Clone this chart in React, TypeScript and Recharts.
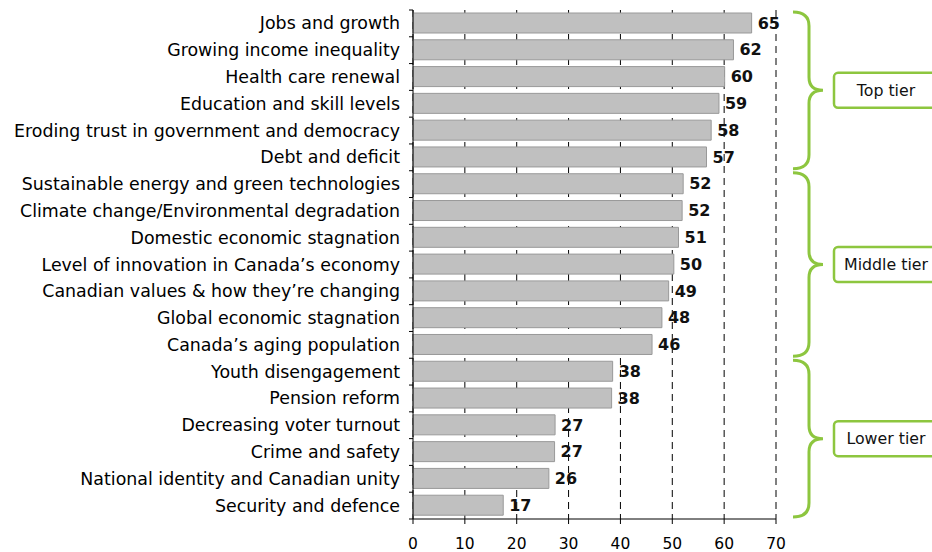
import React from "react";
import {
	Bar,
	BarChart,
	CartesianGrid,
	LabelList,
	ReferenceArea,
	XAxis,
	YAxis,
} from "recharts";

const topics = [
	"Jobs and growth",
	"Growing income inequality",
	"Health care renewal",
	"Education and skill levels",
	"Eroding trust in government and democracy",
	"Debt and deficit",
	"Sustainable energy and green technologies",
	"Climate change/Environmental degradation",
	"Domestic economic stagnation",
	"Level of innovation in Canada\u2019s economy",
	"Canadian values & how they\u2019re changing",
	"Global economic stagnation",
	"Canada\u2019s aging population",
	"Youth disengagement",
	"Pension reform",
	"Decreasing voter turnout",
	"Crime and safety",
	"National identity and Canadian unity",
	"Security and defence",
];

const scores = [
	65.3, 61.8, 60.1, 59.0, 57.5, 56.6, 52.1, 51.9, 51.2, 50.3, 49.3, 48.0, 46.1,
	38.5, 38.3, 27.4, 27.3, 26.2, 17.4,
];

const shown = [
	65, 62, 60, 59, 58, 57, 52, 52, 51, 50, 49, 48, 46, 38, 38, 27, 27, 26, 17,
];

const xTicks = [0, 10, 20, 30, 40, 50, 60, 70];

const tiers = [
	{ label: "Top tier", from: "Jobs and growth", to: "Debt and deficit" },
	{
		label: "Middle tier",
		from: "Sustainable energy and green technologies",
		to: "Canada\u2019s aging population",
	},
	{ label: "Lower tier", from: "Youth disengagement", to: "Security and defence" },
];

const data = topics.map((topic, i) => ({
	topic,
	value: scores[i],
	shown: shown[i],
}));

const WIDTH = 932;
const HEIGHT = 552;
const TOP = 10;
const X_AXIS_H = 33;
const BAND = (HEIGHT - TOP - X_AXIS_H) / topics.length;
const GREEN = "#8dc63f";
const FONT = "'DejaVu Sans', sans-serif";

// category tick: label plus short tick marks at band boundaries
const TopicTick = (props: any) => {
	const { x, y, payload, index } = props;
	const ax = x + 13;
	return (
		<g>
			<line x1={ax - 4} x2={ax} y1={y - BAND / 2} y2={y - BAND / 2} stroke="#000" />
			{index === topics.length - 1 && (
				<line x1={ax - 4} x2={ax} y1={y + BAND / 2} y2={y + BAND / 2} stroke="#000" />
			)}
			<text
				x={x}
				y={y}
				textAnchor="end"
				dominantBaseline="central"
				fontSize={17.4}
				fontFamily={FONT}
				fill="#000"
			>
				{payload.value}
			</text>
		</g>
	);
};

const makeBrace = (label: string) => (props: any) => {
	const { x, y, width, height } = props;
	const r = x + width;
	const t = y + 2;
	const b = y + height - 2;
	const mid = (t + b) / 2;
	const L = r + 17;
	const S = r + 33;
	const T = r + 47;
	const d = `M${L},${t} Q${S},${t} ${S},${t + 14} L${S},${mid - 13} Q${S},${mid} ${T},${mid} Q${S},${mid} ${S},${mid + 13} L${S},${b - 14} Q${S},${b} ${L},${b}`;
	return (
		<g>
			<path d={d} fill="none" stroke={GREEN} strokeWidth={3} />
			<rect
				x={r + 58}
				y={mid - 17.5}
				width={120}
				height={35}
				rx={4}
				fill="#fff"
				stroke={GREEN}
				strokeWidth={2.5}
			/>
			<text
				x={r + 110}
				y={mid}
				textAnchor="middle"
				dominantBaseline="central"
				fontSize={15.8}
				fontFamily={FONT}
				fill="#111"
			>
				{label}
			</text>
		</g>
	);
};

const App: React.FC = () => {
	return (
		<div style={{ position: "absolute", left: 0, top: 0 }}>
			<BarChart
				width={WIDTH}
				height={HEIGHT}
				data={data}
				layout="vertical"
				barSize={20}
				margin={{ top: TOP, right: 156, bottom: 0, left: 0 }}
			>
				<CartesianGrid
					horizontal={false}
					stroke="#000"
					strokeDasharray="7 5"
				/>
				<XAxis
					type="number"
					domain={[0, 70]}
					ticks={xTicks}
					height={X_AXIS_H}
					tickSize={5}
					tickMargin={14}
					axisLine={{ stroke: "#000" }}
					tickLine={{ stroke: "#000" }}
					tick={{ fill: "#000", fontSize: 15.5, fontFamily: FONT }}
				/>
				<YAxis
					type="category"
					dataKey="topic"
					width={413}
					tickSize={4}
					tickMargin={9}
					tickLine={false}
					axisLine={{ stroke: "#000" }}
					interval={0}
					tick={<TopicTick />}
				/>
				<Bar
					dataKey="value"
					fill="#c0c0c0"
					stroke="#999"
					strokeWidth={1}
					isAnimationActive={false}
				>
					<LabelList
						dataKey="shown"
						position="right"
						offset={6}
						fill="#111"
						fontSize={16}
						fontWeight="bold"
						fontFamily={FONT}
					/>
				</Bar>
				{tiers.map((t) => (
					<ReferenceArea
						key={t.label}
						y1={t.from}
						y2={t.to}
						ifOverflow="visible"
						shape={makeBrace(t.label)}
					/>
				))}
			</BarChart>
		</div>
	);
};

export default App;
